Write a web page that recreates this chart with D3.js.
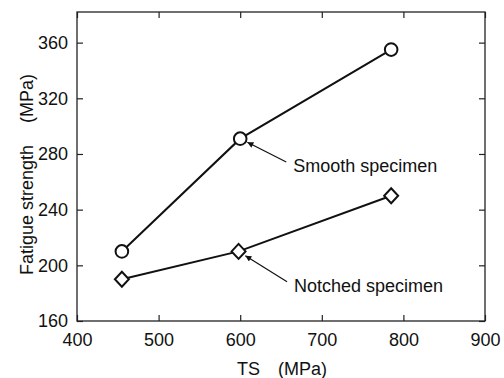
<!DOCTYPE html>
<html>
<head>
<meta charset="utf-8">
<script src="https://cdn.jsdelivr.net/npm/d3@7"></script>
<style>
  body { margin: 0; background: #fff; }
  svg text { font-family: "Liberation Sans", Arial, sans-serif; fill: #111; }
</style>
</head>
<body>
<svg id="area" width="504" height="378"></svg>
<script>
// tensile strength vs fatigue strength
const smoothTS = [455, 600, 785];
const smoothFS = [210, 291, 355];
const notchedTS = [455, 598, 785];
const notchedFS = [190, 210, 250];
const xTicks = [400, 500, 600, 700, 800, 900];
const yTicks = [160, 200, 240, 280, 320, 360];
const seriesNames = ['Smooth specimen', 'Notched specimen'];
// where each callout label sits, in data units (TS, MPa)
const calloutTS = [665, 666];
const calloutFS = [267, 181];

const margin = { top: 12, right: 19, bottom: 57, left: 77 };
const width = 504 - margin.left - margin.right;
const height = 378 - margin.top - margin.bottom;
const fontSize = 18;

const svg = d3.select('#area');
svg.append('defs').append('marker')
  .attr('id', 'head')
  .attr('viewBox', '0 0 10 10')
  .attr('refX', 10)
  .attr('refY', 5)
  .attr('markerWidth', 9)
  .attr('markerHeight', 6)
  .attr('markerUnits', 'userSpaceOnUse')
  .attr('orient', 'auto')
  .append('path')
  .attr('d', 'M0,0L10,5L0,10Z')
  .attr('fill', '#111');

const g = svg.append('g')
  .attr('transform', `translate(${margin.left},${margin.top})`);

const x = d3.scaleLinear().domain([400, 900]).range([0, width]);
const y = d3.scaleLinear().domain([160, 382]).range([height, 0]);

function styleAxis(sel, showText) {
  sel.select('.domain').remove();
  sel.selectAll('line').attr('stroke', '#222').attr('stroke-width', 1.2);
  sel.selectAll('text')
    .style('font-size', `${fontSize}px`)
    .attr('fill', '#111')
    .style('display', showText ? null : 'none');
}

g.append('g')
  .attr('transform', `translate(0,${height})`)
  .call(d3.axisBottom(x).tickValues(xTicks).tickSizeInner(-6).tickSizeOuter(0).tickPadding(12))
  .call(styleAxis, true);
g.append('g')
  .call(d3.axisTop(x).tickValues(xTicks).tickSizeInner(-6).tickSizeOuter(0))
  .call(styleAxis, false);
g.append('g')
  .call(d3.axisLeft(y).tickValues(yTicks).tickSizeInner(-6).tickSizeOuter(0).tickPadding(9))
  .call(styleAxis, true);
g.append('g')
  .attr('transform', `translate(${width},0)`)
  .call(d3.axisRight(y).tickValues(yTicks).tickSizeInner(-6).tickSizeOuter(0))
  .call(styleAxis, false);

g.append('rect')
  .attr('width', width)
  .attr('height', height)
  .attr('fill', 'none')
  .attr('stroke', '#222')
  .attr('stroke-width', 1.3);

// axis titles (wide gap before the units, as in the original)
const yTitle = g.append('text')
  .attr('transform', `translate(${-margin.left + 33},${height / 2 + 8}) rotate(-90)`)
  .attr('text-anchor', 'middle')
  .style('font-size', `${fontSize}px`);
yTitle.append('tspan').text('Fatigue strength');
yTitle.append('tspan').attr('dx', 22).text('(MPa)');

const xTitle = g.append('text')
  .attr('x', width / 2 + 1)
  .attr('y', height + 54)
  .attr('text-anchor', 'middle')
  .style('font-size', `${fontSize}px`);
xTitle.append('tspan').text('TS');
xTitle.append('tspan').attr('dx', 18).text('(MPa)');

const series = [
  { name: seriesNames[0], shape: 'circle', pts: smoothTS.map((v, i) => ({ ts: v, fs: smoothFS[i] })) },
  { name: seriesNames[1], shape: 'diamond', pts: notchedTS.map((v, i) => ({ ts: v, fs: notchedFS[i] })) },
];

const line = d3.line().x((d) => x(d.ts)).y((d) => y(d.fs));

series.forEach((s) => {
  g.append('path')
    .datum(s.pts)
    .attr('d', line)
    .attr('fill', 'none')
    .attr('stroke', '#111')
    .attr('stroke-width', 2);

  const pts = g.selectAll(null)
    .data(s.pts)
    .enter();
  if (s.shape === 'circle') {
    pts.append('circle')
      .attr('cx', (d) => x(d.ts))
      .attr('cy', (d) => y(d.fs))
      .attr('r', 6.3)
      .attr('fill', '#fff')
      .attr('stroke', '#111')
      .attr('stroke-width', 2);
  } else {
    pts.append('path')
      .attr('transform', (d) => `translate(${x(d.ts)},${y(d.fs)})`)
      .attr('d', 'M0,-7.5L7,0L0,7.5L-7,0Z')
      .attr('fill', '#fff')
      .attr('stroke', '#111')
      .attr('stroke-width', 2);
  }
});

// callouts pointing at the middle point of each series
series.forEach((s, i) => {
  const tx = x(calloutTS[i]);
  const ty = y(calloutFS[i]);
  const p = s.pts[1];
  const px = x(p.ts);
  const py = y(p.fs);
  const sx = tx - 7;
  const sy = ty - 10;
  const len = Math.hypot(sx - px, sy - py);
  const off = 8;
  g.append('line')
    .attr('x1', sx)
    .attr('y1', sy)
    .attr('x2', px + (sx - px) / len * off)
    .attr('y2', py + (sy - py) / len * off)
    .attr('stroke', '#111')
    .attr('stroke-width', 1.2)
    .attr('marker-end', 'url(#head)');
  g.append('text')
    .attr('x', tx)
    .attr('y', ty)
    .style('font-size', `${fontSize}px`)
    .text(s.name);
});
</script>
</body>
</html>
